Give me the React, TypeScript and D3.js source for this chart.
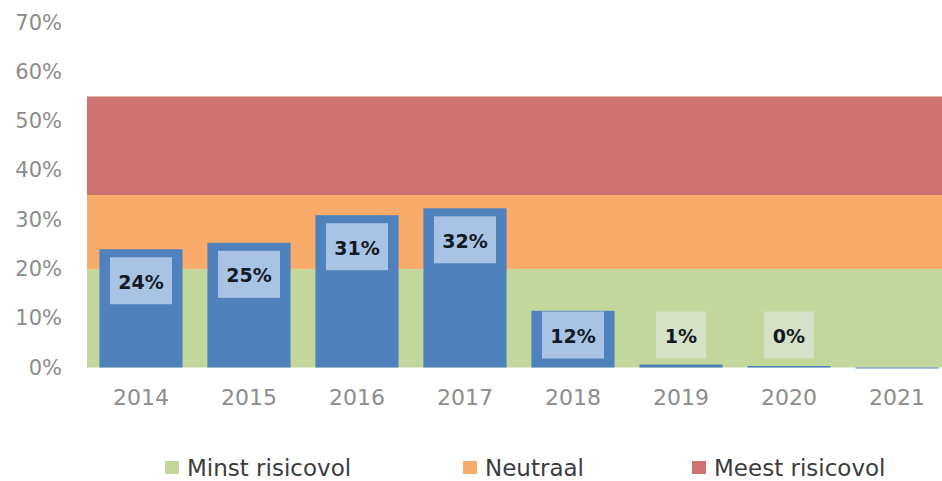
import React from "react";
import * as d3 from "d3";

const years = ["2014", "2015", "2016", "2017", "2018", "2019", "2020", "2021"];
const values = [24, 25.3, 30.9, 32.3, 11.5, 0.6, 0.3, -0.2];
const valueLabels = ["24%", "25%", "31%", "32%", "12%", "1%", "0%", ""];
const bandNames = ["Minst risicovol", "Neutraal", "Meest risicovol"];
const bandFrom = [0, 20, 35];
const bandTo = [20, 35, 55];
const bandColors = ["#c3d69b", "#f9ab6b", "#cd7371"];
const yTicks = [0, 10, 20, 30, 40, 50, 60, 70];

const W = 942;
const H = 481;
const FONT = "'DejaVu Sans', sans-serif";

export default function App() {
  const x = d3
    .scaleBand<string>()
    .domain(years)
    .range([87, 951])
    .paddingInner(0.23)
    .paddingOuter(0.115);
  const y = d3.scaleLinear().domain([0, 70]).range([367.5, 22.5]);

  const legendX = [165, 463, 692];

  return (
    <div style={{ position: "absolute", left: 0, top: 0 }}>
      <svg width={W} height={H} style={{ display: "block", background: "#fff" }}>
        {bandNames.map((n, i) => (
          <rect
            key={n}
            x={87}
            width={951 - 87}
            y={y(bandTo[i])}
            height={y(bandFrom[i]) - y(bandTo[i])}
            fill={bandColors[i]}
          />
        ))}
        {yTicks.map((t) => (
          <text
            key={t}
            x={62}
            y={y(t)}
            textAnchor="end"
            dominantBaseline="central"
            fontFamily={FONT}
            fontSize={21}
            fill="#8c8c8c"
          >
            {t}%
          </text>
        ))}
        {years.map((yr, i) => {
          const v = values[i];
          const top = y(Math.max(v, 0));
          const bot = y(Math.min(v, 0));
          return (
            <rect
              key={yr}
              x={x(yr)}
              width={x.bandwidth()}
              y={top}
              height={Math.max(bot - top, 1)}
              fill="#4f81bd"
            />
          );
        })}
        {years.map((yr, i) => {
          const lab = valueLabels[i];
          if (!lab) return null;
          const v = values[i];
          const boxH = 47;
          const top = Math.min(y(v) + 8, y(0) - 9 - boxH);
          const boxW = lab.length === 3 ? 62 : 50;
          const cx = (x(yr) as number) + x.bandwidth() / 2;
          const onBar = y(v) <= top;
          return (
            <g key={yr}>
              <rect
                x={cx - boxW / 2}
                y={top}
                width={boxW}
                height={boxH}
                fill={onBar ? "#a9c3e4" : "#d6e2c8"}
              />
              <text
                x={cx}
                y={top + boxH / 2 + 1}
                textAnchor="middle"
                dominantBaseline="central"
                fontFamily={FONT}
                fontWeight="bold"
                fontSize={19}
                fill="#141a24"
              >
                {lab}
              </text>
            </g>
          );
        })}
        {years.map((yr) => (
          <text
            key={yr}
            x={(x(yr) as number) + x.bandwidth() / 2}
            y={397}
            textAnchor="middle"
            dominantBaseline="central"
            fontFamily={FONT}
            fontSize={22}
            fill="#8c8c8c"
          >
            {yr}
          </text>
        ))}
        {bandNames.map((n, i) => (
          <g key={n} transform={`translate(${legendX[i]},0)`}>
            <rect x={0} y={461} width={14} height={13} fill={bandColors[i]} />
            <text
              x={22}
              y={467.5}
              dominantBaseline="central"
              fontFamily={FONT}
              fontSize={23}
              fill="#3c3c3c"
            >
              {n}
            </text>
          </g>
        ))}
      </svg>
    </div>
  );
}
